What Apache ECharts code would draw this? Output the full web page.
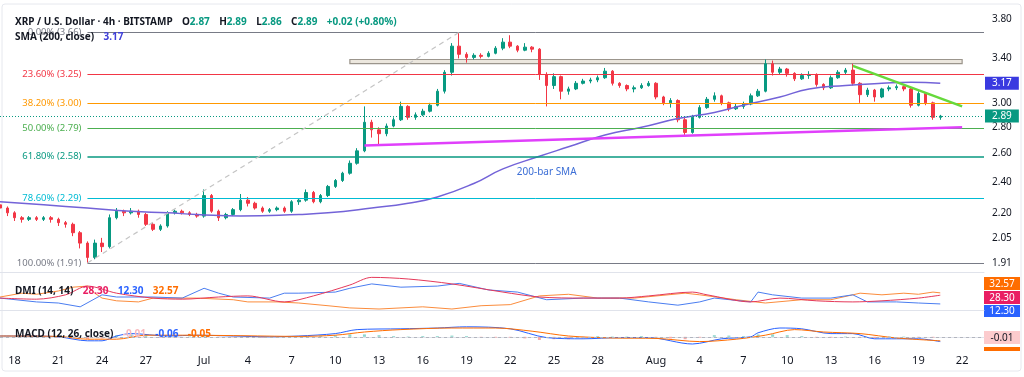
<!DOCTYPE html>
<html>
<head>
<meta charset="utf-8">
<script src="https://cdn.jsdelivr.net/npm/echarts@6/dist/echarts.min.js"></script>
<style>
  html, body { margin: 0; padding: 0; background: #fff; }
  #chart { width: 1024px; height: 377px; }
</style>
</head>
<body>
<div id="chart"></div>
<script>
// 12h slots from 17 Jun 2025, index 0 .. 135
const MONTHS = ['Jan','Feb','Mar','Apr','May','Jun','Jul','Aug','Sep','Oct','Nov','Dec'];
const categories = [];
const start = Date.UTC(2025, 5, 17);
for (let i = 0; i < 136; i++) {
    const d = new Date(start + i * 43200000);
    categories.push(MONTHS[d.getUTCMonth()] + ' ' + d.getUTCDate() + (i % 2 ? ' 12:00' : ' 00:00'));
}
const tickIdx = [2, 8, 14, 20, 28, 34, 40, 46, 52, 58, 64, 70, 76, 82, 90, 96, 102, 108, 114, 120, 126, 132];
const tickText = ['18', '21', '24', '27', 'Jul', '4', '7', '10', '13', '16', '19', '22', '25', '28', 'Aug', '4', '7', '10', '13', '16', '19', '22'];

// [open, close, low, high]
const ohlc = [
    [2.25,2.23,2.21,2.26],[2.23,2.20,2.18,2.24],[2.20,2.17,2.15,2.21],[2.17,2.16,2.14,2.18],[2.16,2.17,2.15,2.18],
    [2.17,2.16,2.15,2.18],[2.16,2.17,2.15,2.18],[2.17,2.16,2.14,2.18],[2.16,2.14,2.12,2.17],[2.14,2.13,2.11,2.15],
    [2.13,2.08,2.06,2.14],[2.08,2.02,1.99,2.09],[2.02,1.94,1.91,2.03],[1.94,2.02,1.93,2.04],[2.02,2.00,1.97,2.05],
    [2.00,2.17,1.99,2.19],[2.17,2.21,2.16,2.23],[2.21,2.20,2.18,2.22],[2.20,2.21,2.19,2.23],[2.21,2.19,2.17,2.22],
    [2.19,2.13,2.12,2.20],[2.13,2.10,2.09,2.14],[2.10,2.12,2.09,2.13],[2.12,2.20,2.11,2.21],[2.20,2.21,2.19,2.22],
    [2.21,2.20,2.19,2.22],[2.20,2.19,2.18,2.21],[2.19,2.18,2.17,2.20],[2.18,2.31,2.17,2.35],[2.31,2.21,2.20,2.32],
    [2.21,2.17,2.15,2.22],[2.17,2.19,2.16,2.20],[2.19,2.22,2.18,2.23],[2.22,2.28,2.21,2.32],[2.28,2.26,2.24,2.30],
    [2.26,2.23,2.22,2.27],[2.23,2.21,2.20,2.24],[2.21,2.22,2.20,2.23],[2.22,2.23,2.21,2.24],[2.23,2.21,2.20,2.24],
    [2.21,2.27,2.20,2.28],[2.27,2.28,2.25,2.29],[2.28,2.33,2.27,2.35],[2.33,2.27,2.26,2.34],[2.27,2.31,2.26,2.32],
    [2.31,2.37,2.30,2.38],[2.37,2.41,2.36,2.42],[2.41,2.46,2.40,2.47],[2.46,2.53,2.45,2.55],[2.53,2.62,2.52,2.64],
    [2.62,2.84,2.61,2.97],[2.84,2.78,2.72,2.86],[2.78,2.75,2.67,2.80],[2.75,2.81,2.73,2.83],[2.81,2.86,2.80,2.88],
    [2.86,2.97,2.85,3.01],[2.97,2.88,2.86,2.98],[2.88,2.90,2.86,2.92],[2.90,2.93,2.89,2.95],[2.93,2.98,2.92,3.00],
    [2.98,3.10,2.97,3.12],[3.10,3.27,3.08,3.29],[3.27,3.52,3.24,3.55],[3.52,3.44,3.40,3.66],[3.44,3.41,3.36,3.46],
    [3.41,3.43,3.39,3.45],[3.43,3.42,3.40,3.45],[3.42,3.45,3.41,3.47],[3.45,3.50,3.44,3.52],[3.50,3.56,3.48,3.60],
    [3.56,3.52,3.50,3.63],[3.52,3.48,3.46,3.53],[3.48,3.51,3.47,3.55],[3.51,3.49,3.46,3.52],[3.49,3.25,3.20,3.50],
    [3.25,3.15,2.97,3.27],[3.15,3.23,3.12,3.26],[3.23,3.10,3.03,3.24],[3.10,3.12,3.07,3.14],[3.12,3.17,3.11,3.19],
    [3.17,3.19,3.16,3.21],[3.19,3.20,3.17,3.22],[3.20,3.22,3.18,3.24],[3.22,3.28,3.21,3.31],[3.28,3.17,3.15,3.29],
    [3.17,3.15,3.13,3.18],[3.15,3.12,3.10,3.16],[3.12,3.13,3.09,3.15],[3.13,3.15,3.12,3.17],[3.15,3.17,3.14,3.19],
    [3.17,3.05,3.03,3.18],[3.05,3.00,2.98,3.06],[3.00,3.02,2.96,3.04],[3.02,2.86,2.84,3.03],[2.86,2.76,2.73,2.88],
    [2.76,2.88,2.75,2.90],[2.88,2.96,2.87,2.98],[2.96,3.03,2.95,3.05],[3.03,3.06,3.01,3.09],[3.06,3.00,2.98,3.07],
    [3.00,2.95,2.93,3.01],[2.95,2.97,2.94,2.99],[2.97,2.99,2.95,3.01],[2.99,3.06,2.98,3.08],[3.06,3.10,3.05,3.12],
    [3.10,3.35,3.09,3.39],[3.35,3.27,3.24,3.38],[3.27,3.30,3.25,3.32],[3.30,3.26,3.23,3.31],[3.26,3.21,3.19,3.27],
    [3.21,3.24,3.20,3.26],[3.24,3.25,3.21,3.28],[3.25,3.16,3.14,3.26],[3.16,3.13,3.11,3.17],[3.13,3.22,3.12,3.24],
    [3.22,3.27,3.21,3.29],[3.27,3.29,3.25,3.31],[3.29,3.17,3.15,3.35],[3.17,3.07,3.00,3.18],[3.07,3.11,3.05,3.13],
    [3.11,3.05,3.01,3.12],[3.05,3.12,3.04,3.13],[3.12,3.13,3.10,3.15],[3.13,3.14,3.11,3.16],[3.14,3.12,3.10,3.15],
    [3.12,2.98,2.96,3.13],[2.98,3.08,2.97,3.10],[3.08,3.00,2.98,3.09],[3.00,2.88,2.86,3.01],[2.88,2.89,2.86,2.90]
];

// 200-bar SMA, [slot, value]
const sma200 = [[0,2.27],[6,2.25],[12,2.23],[18,2.21],[23,2.20],[27,2.19],[33,2.18],[41,2.19],[45,2.20],
    [51,2.23],[56,2.26],[60,2.30],[65,2.39],[69,2.49],[74,2.58],[78,2.65],[83,2.74],[88,2.80],[93,2.87],
    [98,2.92],[102,2.98],[107,3.05],[111,3.12],[116,3.15],[121,3.17],[125,3.18],[129,3.17]];

// DMI (14, 14)
const diMinus = [[0,25],[3,32],[5,30],[8,36],[10,43],[12,45],[13,32],[14,23],[16,18],[19,16],[21,23],[23,23],
    [27,23],[32,20],[34,16],[38,16],[41,14],[45,9],[48,5],[52,3],[58,7],[62,3],[66,9],[70,11],[74,27],[78,30],
    [82,23],[87,23],[94,32],[96,29],[101,20],[105,14],[110,20],[114,20],[118,32],[121,29],[124,32],[126,30],
    [128,34],[129,32.57]];
const diPlus = [[0,23],[5,16],[8,14],[11,7],[14,29],[16,25],[21,25],[25,23],[28,41],[30,32],[32,25],[37,23],
    [39,32],[41,32],[46,34],[48,41],[51,49],[55,43],[60,45],[63,50],[67,38],[71,34],[75,20],[80,23],[85,23],
    [89,16],[93,10],[96,16],[98,23],[103,16],[104,34],[106,29],[110,23],[114,23],[117,29],[119,16],[123,16],
    [126,14],[129,12.3]];
const adx = [[0,23],[5,21],[9,29],[12,45],[16,32],[21,23],[25,21],[30,25],[34,27],[39,16],[43,27],[48,47],
    [51,61],[56,58],[62,49],[69,34],[74,25],[80,23],[85,23],[89,27],[95,34],[97,29],[103,16],[107,23],[112,18],
    [117,16],[121,18],[126,23],[129,28.3]];

// MACD (12, 26, close)
const macdLine = [[0,0.01],[4,0.01],[8,0],[12,-0.05],[14,-0.05],[16,0.01],[18,0.04],[23,0.01],[27,0.02],
    [32,0.01],[37,0],[41,0.01],[46,0.04],[49,0.09],[55,0.10],[60,0.11],[64,0.125],[70,0.10],[75,-0.01],
    [80,-0.025],[85,-0.01],[89,-0.01],[95,-0.09],[99,-0.025],[103,0],[104,0.05],[107,0.11],[110,0.10],
    [114,0.04],[117,0.04],[120,-0.025],[123,-0.025],[126,-0.025],[129,-0.06]];
const signalLine = [[0,0.01],[8,0.005],[12,-0.03],[16,-0.03],[20,0.02],[25,0.02],[32,0.015],[41,0.005],
    [46,0.02],[50,0.06],[55,0.09],[62,0.11],[68,0.11],[73,0.07],[78,0.01],[84,-0.015],[90,-0.02],[96,-0.06],
    [101,-0.03],[105,0.02],[109,0.09],[113,0.06],[118,0.04],[123,-0.015],[129,-0.05]];
const histo = [[0,0],[2,-0.005],[4,0.005],[6,-0.005],[8,-0.01],[10,-0.02],[12,-0.025],[14,-0.02],[16,0.02],
    [18,0.03],[20,0.02],[22,-0.01],[24,-0.01],[26,0.005],[28,0.01],[30,-0.005],[32,-0.005],[34,-0.01],
    [36,-0.01],[38,-0.005],[40,0.005],[42,0.01],[44,0.015],[46,0.02],[48,0.03],[50,0.03],[52,0.02],[54,0.01],
    [56,0.005],[58,0.01],[60,0.01],[62,0.015],[64,0.01],[66,-0.005],[68,-0.01],[70,-0.01],[72,-0.02],
    [74,-0.04],[76,-0.03],[78,-0.03],[80,-0.02],[82,0.01],[84,0.005],[86,0.005],[88,0.01],[90,-0.005],
    [92,-0.02],[94,-0.03],[96,-0.01],[98,0.02],[100,0.015],[102,0.01],[104,0.03],[106,0.03],[108,0.02],
    [110,0.01],[112,-0.01],[114,-0.01],[116,0.005],[118,-0.01],[120,-0.02],[122,0.005],[124,0.005],
    [126,-0.01],[128,-0.01]];

// fibonacci retracement levels
const fibPct = ['0.00%', '23.60%', '38.20%', '50.00%', '61.80%', '78.60%', '100.00%'];
const fibVal = [3.66, 3.25, 3.00, 2.79, 2.58, 2.29, 1.91];
const fibColor = ['#787b86', '#f23645', '#ff9800', '#4caf50', '#089981', '#00bcd4', '#787b86'];

const priceTicks = [3.80, 3.40, 3.00, 2.80, 2.60, 2.40, 2.20, 2.05, 1.91];

const FONT = 'Noto Sans';

let myChart = echarts.init(document.getElementById('chart'));

let markLines = [];
fibVal.forEach((v, k) => {
    markLines.push([
        {
            coord: [12, v],
            lineStyle: {color: fibColor[k], width: k === 4 ? 1.6 : 1, type: 'solid'},
            label: {show: true, position: 'start', distance: 6, formatter: fibPct[k] + ' (' + v.toFixed(2) + ')',
                color: fibColor[k], fontSize: 9.5, fontFamily: FONT}
        },
        {coord: [135, v]}
    ]);
});
// fib swing line, support, resistance
markLines.push([
    {coord: [12, 1.91], lineStyle: {color: '#c4c4c4', width: 1.2, type: [5, 4]}, label: {show: false}},
    {coord: [63, 3.66]}
]);
markLines.push([
    {coord: [50, 2.66], lineStyle: {color: '#e040fb', width: 2.5, type: 'solid'}, label: {show: false}},
    {coord: [132, 2.80]}
]);
markLines.push([
    {coord: [117, 3.33], lineStyle: {color: '#66d93b', width: 2.5, type: 'solid'}, label: {show: false}},
    {coord: [132, 2.97]}
]);
// price scale
priceTicks.forEach((v) => {
    markLines.push({
        yAxis: v,
        lineStyle: {color: 'rgba(0,0,0,0)', width: 0},
        label: {show: true, position: 'end', distance: 8, formatter: v.toFixed(2), color: '#131722',
            fontSize: 10, fontFamily: FONT}
    });
});
markLines.push({
    yAxis: 2.89,
    lineStyle: {color: '#089981', width: 1, type: [1, 2]},
    label: {show: true, position: 'end', distance: 1, formatter: '2.89', color: '#fff', backgroundColor: '#089981',
        padding: [2, 7, 1, 7], fontSize: 10, fontFamily: FONT}
});

function box(y, h, bg, txt, fg) {
    return {
        type: 'group', left: 984, top: y,
        children: [
            {type: 'rect', shape: {x: 0, y: 0, width: 36, height: h}, style: {fill: bg}},
            {type: 'text', x: 18, y: h / 2 + 0.5, style: {text: txt, fill: fg, font: '10px "Noto Sans"',
                align: 'center', verticalAlign: 'middle'}}
        ]
    };
}

let option = {
    animation: false,
    backgroundColor: '#fff',
    textStyle: {fontFamily: FONT},
    title: [
        {
            left: 10, top: 8,
            text: '{d|XRP / U.S. Dollar · 4h · BITSTAMP}  {d|O}{g|2.87}  {d|H}{g|2.89}  {d|L}{g|2.86}  {d|C}{g|2.89}  {g|+0.02 (+0.80%)}',
            textStyle: {rich: {d: {color: '#131722', fontSize: 10, fontFamily: FONT}, g: {color: '#089981', fontSize: 10, fontFamily: FONT}}}
        },
        {
            left: 10, top: 23,
            text: '{d|SMA (200, close)}  {b|3.17}',
            textStyle: {rich: {d: {color: '#131722', fontSize: 10, fontFamily: FONT}, b: {color: '#3f3fd8', fontSize: 10, fontFamily: FONT}}}
        },
        {
            left: 10, top: 277,
            text: '{d|DMI (14, 14)}  {r|28.30}  {b|12.30}  {o|32.57}',
            textStyle: {rich: {d: {color: '#131722', fontSize: 10, fontFamily: FONT}, r: {color: '#e91e63', fontSize: 10, fontFamily: FONT},
                b: {color: '#2962ff', fontSize: 10, fontFamily: FONT}, o: {color: '#ff6d00', fontSize: 10, fontFamily: FONT}}}
        },
        {
            left: 10, top: 320,
            text: '{d|MACD (12, 26, close)}  {p|-0.01}  {b|-0.06}  {o|-0.05}',
            textStyle: {rich: {d: {color: '#131722', fontSize: 10, fontFamily: FONT}, p: {color: '#f8b9bd', fontSize: 10, fontFamily: FONT},
                b: {color: '#2962ff', fontSize: 10, fontFamily: FONT}, o: {color: '#ff6d00', fontSize: 10, fontFamily: FONT}}}
        }
    ],
    grid: [
        {left: 0, right: 40, top: 5, height: 267},
        {left: 0, right: 40, top: 273, height: 42},
        {left: 0, right: 40, top: 316, height: 36}
    ],
    xAxis: [0, 1, 2].map((g) => ({
        type: 'category',
        gridIndex: g,
        data: categories,
        boundaryGap: false,
        axisTick: {show: false},
        splitLine: {show: false},
        axisLine: {show: true, lineStyle: {color: '#e0e3eb'}},
        axisLabel: g === 2 ? {
            show: true,
            margin: 3,
            color: '#131722',
            fontSize: 11,
            fontFamily: FONT,
            interval: (idx) => tickIdx.indexOf(idx) >= 0,
            formatter: (val, idx) => {
                let k = tickIdx.indexOf(idx);
                return k >= 0 ? tickText[k] : '';
            }
        } : {show: false}
    })),
    yAxis: [
        {type: 'log', logBase: 10, gridIndex: 0, min: 1.862, max: 3.953, position: 'right',
            axisLabel: {show: false}, axisLine: {show: false}, axisTick: {show: false}, splitLine: {show: false}},
        {type: 'value', gridIndex: 1, min: -8, max: 69, position: 'right',
            axisLabel: {show: false}, axisLine: {show: false}, axisTick: {show: false}, splitLine: {show: false}},
        {type: 'value', gridIndex: 2, min: -0.19, max: 0.26, position: 'right',
            axisLabel: {show: false}, axisLine: {show: false}, axisTick: {show: false}, splitLine: {show: false}}
    ],
    series: [
        {
            name: 'XRP',
            type: 'candlestick',
            xAxisIndex: 0,
            yAxisIndex: 0,
            data: ohlc,
            barWidth: 3,
            itemStyle: {color: '#089981', color0: '#f23645', borderColor: '#089981', borderColor0: '#f23645', borderWidth: 1},
            markArea: {
                silent: true,
                itemStyle: {color: '#ece7de', borderColor: '#9b958c', borderWidth: 1.2},
                data: [[{coord: [48, 3.39]}, {coord: [132, 3.35]}]]
            },
            markLine: {
                silent: true,
                symbol: ['none', 'none'],
                animation: false,
                data: markLines
            }
        },
        {
            name: 'SMA 200',
            type: 'line',
            xAxisIndex: 0,
            yAxisIndex: 0,
            data: sma200,
            smooth: true,
            showSymbol: false,
            lineStyle: {color: '#7363d8', width: 1.5},
            markLine: {
                silent: true,
                symbol: ['none', 'none'],
                data: [{
                    yAxis: 3.17,
                    lineStyle: {color: 'rgba(0,0,0,0)', width: 0},
                    label: {show: true, position: 'end', distance: 1, formatter: '3.17', color: '#fff',
                        backgroundColor: '#3a3ae0', padding: [2, 7, 1, 7], fontSize: 10, fontFamily: FONT}
                }]
            },
            markPoint: {
                silent: true,
                symbol: 'circle',
                symbolSize: 1,
                itemStyle: {color: 'rgba(0,0,0,0)'},
                data: [{coord: [75, 2.47], label: {show: true, position: 'inside', formatter: '200-bar SMA',
                    color: '#3d6fd6', fontSize: 10, fontFamily: FONT}}]
            }
        },
        {name: '-DI', type: 'line', xAxisIndex: 1, yAxisIndex: 1, data: diMinus, showSymbol: false,
            lineStyle: {color: '#fb8c3c', width: 1}},
        {name: '+DI', type: 'line', xAxisIndex: 1, yAxisIndex: 1, data: diPlus, showSymbol: false,
            lineStyle: {color: '#4a7df0', width: 1}},
        {name: 'ADX', type: 'line', xAxisIndex: 1, yAxisIndex: 1, data: adx, showSymbol: false, smooth: 0.3,
            lineStyle: {color: '#e5395a', width: 1}},
        {
            name: 'Histogram', type: 'bar', xAxisIndex: 2, yAxisIndex: 2, data: histo, barWidth: 3,
            itemStyle: {color: (p) => p.value[1] >= 0 ? '#8fd6cc' : '#f7a9a9'},
            markLine: {
                silent: true,
                symbol: ['none', 'none'],
                label: {show: false},
                data: [{yAxis: 0, lineStyle: {color: '#b2b5be', type: [3, 3], width: 1}}]
            }
        },
        {name: 'MACD', type: 'line', xAxisIndex: 2, yAxisIndex: 2, data: macdLine, showSymbol: false, smooth: 0.3,
            lineStyle: {color: '#2962ff', width: 1}},
        {name: 'Signal', type: 'line', xAxisIndex: 2, yAxisIndex: 2, data: signalLine, showSymbol: false, smooth: 0.3,
            lineStyle: {color: '#ff6d00', width: 1}}
    ],
    graphic: [
        {type: 'rect', shape: {x: 2, y: 4, width: 1019, height: 367, r: 3}, style: {fill: 'none', stroke: '#e6e8ee'}, silent: true},
        box(277, 13, '#ff6d00', '32.57', '#fff'),
        box(291, 13, '#e91e63', '28.30', '#fff'),
        box(305, 12, '#2962ff', '12.30', '#fff'),
        box(331, 13, '#fccbcd', '-0.01', '#131722'),
        {type: 'rect', left: 984, top: 347, shape: {width: 36, height: 4}, style: {fill: '#ff6d00'}}
    ]
};

myChart.setOption(option);
</script>
</body>
</html>
